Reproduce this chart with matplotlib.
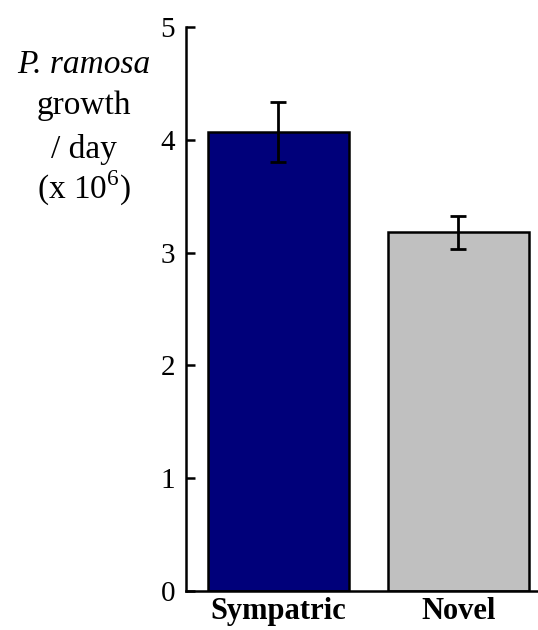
import matplotlib
matplotlib.use('Agg')
import matplotlib.pyplot as plt

plt.rcParams['font.family'] = ['Liberation Serif', 'DejaVu Serif']
plt.rcParams['mathtext.fontset'] = 'custom'
plt.rcParams['mathtext.rm'] = 'Liberation Serif'

groups = ['Sympatric', 'Novel']
growth = [4.07, 3.18]
growth_err = [0.265, 0.145]
bar_colors = ['#00007a', '#c0c0c0']
yticks = [0, 1, 2, 3, 4, 5]
ylabel_lines = ['P. ramosa', 'growth', '/ day', r'(x 10$^{6}$)']

fig = plt.figure(figsize=(5.38, 6.3), dpi=100)
ax = fig.add_axes([186 / 538, 39 / 630, 352 / 538, 564 / 630])

x = list(range(len(groups)))
ax.bar(x, growth, width=0.78, color=bar_colors, edgecolor='black', linewidth=1.8, zorder=2)
ax.errorbar(x, growth, yerr=growth_err, fmt='none', ecolor='black',
            elinewidth=2, capsize=5.5, capthick=2, zorder=3)

ax.set_xlim(-0.514, 1.442)
ax.set_ylim(0, 5)
ax.set_yticks(yticks)
ax.set_xticks(x)
ax.set_xticklabels(groups, fontsize=22, fontweight='bold')
ax.tick_params(axis='x', length=0, pad=4)
ax.tick_params(axis='y', direction='in', length=6.5, width=1.8, labelsize=21, pad=8)

ax.spines['top'].set_visible(False)
ax.spines['right'].set_visible(False)
ax.spines['left'].set_linewidth(1.8)
ax.spines['bottom'].set_linewidth(1.8)

# y label as stacked lines, baselines
baselines = [73, 114, 158, 199]
for i, line in enumerate(ylabel_lines):
    style = 'italic' if i == 0 else 'normal'
    fig.text(84 / 538, 1 - baselines[i] / 630, line, style=style, fontsize=24,
             ha='center', va='baseline')

fig.savefig('out.png', dpi=100)
